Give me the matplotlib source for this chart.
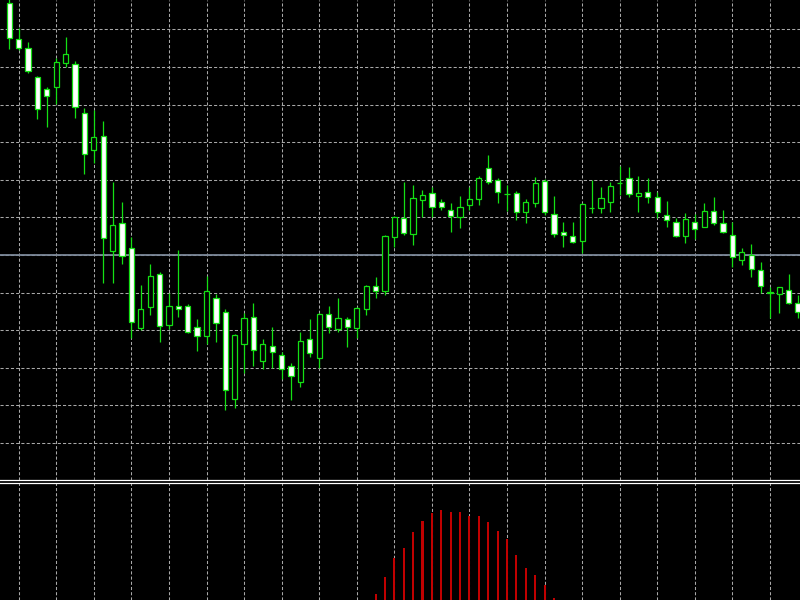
import numpy as np
import matplotlib.pyplot as plt

# OHLC (price in points, 85 bars)
opens = [596.7, 561, 551.7, 522.7, 511, 513.3, 536.7, 535.7, 487.3, 450.3,
         464, 349.3, 377, 352.3, 272.3, 293.3, 325.7, 275, 294, 294,
         272.7, 264, 302, 288.3, 201.3, 255.7, 283.3, 239.3, 254, 244.7,
         234, 218.3, 260.7, 241.7, 285.7, 270.7, 281, 271.7, 290.7, 314,
         309.3, 363.3, 382.3, 366, 400, 406.7, 398.3, 390, 382.7, 395,
         401, 432.3, 420, 406.3, 406.7, 387.7, 397.3, 419.3, 385.7, 367.7,
         364, 359, 392, 391.7, 397.7, 417, 421.7, 404, 407.7, 403,
         385, 378.3, 364.3, 378.3, 372.7, 389, 377.3, 365, 340, 345,
         330, 307.3, 306, 310, 297.3]
highs = [603, 571.7, 557.7, 524, 513.3, 541.7, 562.7, 539, 492.3, 490,
         479.3, 418.3, 398.3, 363.3, 315, 336, 328, 306.7, 350, 295.7,
         281, 324.3, 305.7, 290.7, 265.7, 287.3, 296.7, 260.7, 272.7, 248,
         237.3, 268, 281, 287, 294, 302.3, 283.3, 293.3, 315, 323.3,
         365, 384, 418.3, 415, 410, 413.3, 401, 396.7, 404, 412.7,
         424, 445, 421.7, 415, 409.3, 400.7, 422.7, 420.7, 404, 378.3,
         378.3, 396.7, 420, 413.3, 418.3, 434, 433.3, 424, 421.7, 407.7,
         399.3, 381.7, 386.7, 386, 396.7, 403.3, 390, 378.3, 352.3, 355.7,
         338.3, 313.3, 312.7, 325.7, 305]
lows = [551, 550, 526.7, 480.7, 473.3, 496, 533.3, 481.7, 425.7, 436.7,
        316.7, 316.7, 335.7, 261.7, 270, 285, 258.3, 270.7, 282.7, 266.7,
        249.3, 256, 258, 190, 191.7, 227.3, 234, 230.7, 232.3, 220.7,
        200, 213.3, 243.3, 232.3, 266.7, 268.3, 253.3, 261.7, 285, 301.7,
        305, 352.7, 365, 355, 383.3, 383.3, 390, 368.3, 371.7, 390,
        395, 416, 397.3, 389, 380, 377.3, 393.3, 385, 362.7, 352.7,
        356.7, 347.3, 386.7, 386.7, 388.3, 405, 402.7, 388.3, 396.7, 381.7,
        373.3, 363.3, 356.7, 361.3, 372.7, 375, 367.3, 333.3, 335, 322.7,
        307.3, 281.7, 287.3, 295.7, 281.7]
closes = [561.7, 552.3, 529, 490.7, 504.3, 538, 546, 493.3, 445.7, 463,
          362.3, 374.7, 344, 278.3, 291.3, 324.3, 274.3, 294, 290.7, 268.3,
          264, 309, 276.7, 210, 264.7, 282.3, 250, 256.3, 247.7, 231,
          224, 258.7, 247.3, 285.7, 273.3, 281.7, 273.3, 291.7, 314, 309.3,
          364, 383.3, 366.7, 401.7, 405, 392.7, 392.7, 384.3, 393.3, 400.7,
          421.7, 418.3, 408.3, 406, 388.3, 398.3, 417.3, 388.3, 365.7, 365,
          357.7, 396, 392.3, 401.7, 414, 417.3, 406, 406.7, 403.3, 388.3,
          380, 364.3, 380.7, 370.7, 389, 377.3, 368.3, 342.7, 347.7, 331,
          314, 307.5, 312.7, 297.3, 288.3]

# oscillator histogram in the lower window (first bar index + values)
hist_first = 39
hist = [5.7, 23.3, 42, 52, 68, 79, 87, 90, 88.3, 87.7,
        84, 84, 78, 69, 60.7, 45, 32.3, 25.3, 14.7, 2]

level = 345.2  # grey horizontal line

o = np.array(opens); h = np.array(highs); l = np.array(lows); c = np.array(closes)
x = np.arange(len(o))
bear = c < o
green = "#14e014"

fig = plt.figure(figsize=(8, 6), dpi=100, facecolor="black")
ax = fig.add_axes([0, 0.2, 1, 0.8], facecolor="black")
ax2 = fig.add_axes([0, 0, 1, 117 / 600], facecolor="black")

for a in (ax, ax2):
    a.set_xlim(-0.99, 84.2)
    a.set_xticks(np.arange(1, 85, 4))
    a.tick_params(length=0, labelbottom=False, labelleft=False)
    for s in a.spines.values():
        s.set_visible(False)
ax.set_ylim(120, 600)
ax2.set_ylim(0, 117)
ax.set_yticks(np.arange(157.1, 600, 37.6))
ax2.set_yticks([])

ax.grid(True, color="#a8a8a8", linestyle=(0, (3, 2)), lw=0.75)
ax2.grid(True, axis="x", color="#a8a8a8", linestyle=(0, (3, 2)), lw=0.75)
ax.set_axisbelow(True)
ax2.set_axisbelow(True)

# double white separator between the windows
ax.spines["bottom"].set_visible(True)
ax.spines["bottom"].set_color("white")
ax.spines["bottom"].set_linewidth(0.9)
ax2.spines["top"].set_visible(True)
ax2.spines["top"].set_color("white")
ax2.spines["top"].set_linewidth(0.9)

ax.axhline(level, color="#7d8a9a", lw=1.3, zorder=1.5)

# candles
ax.vlines(x, l, h, color=green, lw=0.9, zorder=2)
bottom = np.minimum(o, c)
height = np.maximum(np.abs(c - o), 0.3)
ax.bar(x[bear], height[bear], bottom=bottom[bear], width=0.56,
       color="white", edgecolor=green, lw=0.9, zorder=3)
ax.bar(x[~bear], height[~bear], bottom=bottom[~bear], width=0.56,
       color="black", edgecolor=green, lw=0.9, zorder=3)

# histogram
hx = np.arange(hist_first, hist_first + len(hist))
ax2.bar(hx, hist, width=0.22, color="#c00000", zorder=3)

fig.savefig("out.png", dpi=100, facecolor="black")
